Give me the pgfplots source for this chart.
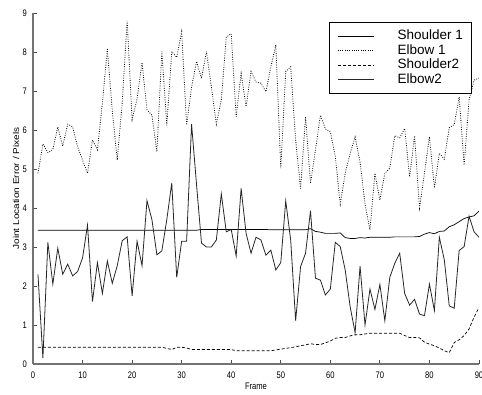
\documentclass[border=0pt]{standalone}
\usepackage{fontspec}
\setmainfont{Liberation Sans}
\newfontfamily\condfont{Liberation Sans}[FakeStretch=0.8]
\usepackage{graphicx}
\usepackage{pgfplots}
\pgfplotsset{compat=1.18}

\begin{document}
\begin{tikzpicture}
\useasboundingbox (0,0) rectangle (482pt,394pt);
\begin{axis}[
  at={(33pt,30pt)}, anchor=south west,
  scale only axis, width=446pt, height=351pt,
  xmin=0, xmax=90, ymin=0, ymax=9,
  axis x line*=bottom, axis y line*=left,
  xtick pos=bottom, ytick pos=left,
  xtick={0,10,...,90}, ytick={0,1,...,9},
  tick align=inside, major tick length=4pt,
  axis line style={black!55, line width=1.4pt},
  tick style={black!70, line width=0.8pt},
  /pgf/number format/assume math mode=true,
  ticklabel style={font=\condfont\fontsize{9.5}{11}\selectfont, inner sep=0pt},
  xticklabel style={anchor=center, yshift=-11pt},
  yticklabel style={anchor=east, xshift=-6pt},
  xlabel={Frame},
  ylabel={\scalebox{1}[0.85]{Joint Location Error / Pixels}},
  xlabel style={font=\condfont\fontsize{9.5}{11}\selectfont, at={(axis description cs:0.5,0)}, anchor=center, yshift=-22.7pt},
  ylabel style={font=\fontsize{10}{12}\selectfont, at={(axis description cs:-0.038,0.5)}, anchor=center},
  legend cell align=left,
  legend style={at={(0.9836,0.975)}, anchor=north east, draw=black, line width=1pt, fill=white,
    inner xsep=8.3pt, inner ysep=6.75pt, font=\fontsize{13.5}{14.5}\selectfont,
    column sep=22.7pt, row sep=0pt,
    nodes={inner sep=0pt, text height=10.5pt, text depth=4pt}},
  legend image code/.code={\draw[#1] (0pt,0pt) -- (36.7pt,0pt);},
]
% Shoulder 1
\addplot[black, line width=0.7pt] coordinates {
(1,3.43)(2,3.43)(3,3.43)(4,3.43)(5,3.43)(6,3.43)(7,3.43)(8,3.43)(9,3.43)(10,3.43)
(11,3.43)(12,3.43)(13,3.43)(14,3.43)(15,3.43)(16,3.43)(17,3.43)(18,3.43)(19,3.43)(20,3.43)
(21,3.43)(22,3.43)(23,3.43)(24,3.43)(25,3.43)(26,3.43)(27,3.43)(28,3.43)(29,3.43)(30,3.43)
(31,3.43)(32,3.43)(33,3.43)(34,3.45)(35,3.45)(36,3.45)(37,3.45)(38,3.45)(39,3.45)(40,3.45)
(41,3.45)(42,3.45)(43,3.45)(44,3.45)(45,3.45)(46,3.45)(47,3.45)(48,3.44)(49,3.44)(50,3.44)
(51,3.44)(52,3.44)(53,3.44)(54,3.44)(55,3.44)(56,3.47)(57,3.40)(58,3.38)(59,3.35)(60,3.35)
(61,3.35)(62,3.36)(63,3.24)(64,3.22)(65,3.22)(66,3.24)(67,3.23)(68,3.25)(69,3.25)(70,3.25)
(71,3.25)(72,3.25)(73,3.26)(74,3.26)(75,3.26)(76,3.26)(77,3.26)(78,3.27)(79,3.33)(80,3.37)
(81,3.34)(82,3.40)(83,3.41)(84,3.52)(85,3.57)(86,3.65)(87,3.73)(88,3.77)(89,3.80)(90,3.92)
};
\addlegendentry{Shoulder 1}
% Elbow 1
\addplot[black, line width=0.8pt, dash pattern=on 0.8pt off 1.5pt] coordinates {
(1,4.89)(2,5.64)(3,5.42)(4,5.50)(5,6.08)(6,5.59)(7,6.15)(8,6.08)(9,5.57)(10,5.23)
(11,4.89)(12,5.74)(13,5.49)(14,6.68)(15,8.07)(16,6.50)(17,5.23)(18,6.70)(19,8.80)(20,6.26)
(21,6.80)(22,7.73)(23,6.52)(24,6.38)(25,5.44)(26,8.01)(27,6.12)(28,8.01)(29,7.86)(30,8.52)
(31,6.13)(32,7.10)(33,7.76)(34,7.32)(35,8.01)(36,7.10)(37,6.15)(38,6.77)(39,8.38)(40,8.47)
(41,6.34)(42,7.45)(43,6.60)(44,7.50)(45,7.23)(46,7.20)(47,6.98)(48,7.62)(49,8.18)(50,5.02)
(51,7.50)(52,7.62)(53,5.74)(54,4.50)(55,6.34)(56,4.63)(57,5.49)(58,6.38)(59,6.03)(60,5.95)
(61,5.32)(62,4.10)(63,4.89)(64,5.40)(65,5.82)(66,5.18)(67,4.10)(68,3.44)(69,4.89)(70,4.20)
(71,4.89)(72,5.02)(73,5.85)(74,5.80)(75,6.04)(76,4.80)(77,5.85)(78,4.00)(79,4.90)(80,5.83)
(81,4.52)(82,5.40)(83,5.25)(84,6.06)(85,6.14)(86,6.85)(87,5.10)(88,6.77)(89,7.28)(90,7.33)
};
\addlegendentry{Elbow 1}
% Shoulder2
\addplot[black, line width=0.7pt, dash pattern=on 3pt off 2pt] coordinates {
(1,0.43)(2,0.43)(3,0.43)(4,0.43)(5,0.43)(6,0.43)(7,0.43)(8,0.43)(9,0.43)(10,0.43)
(11,0.43)(12,0.43)(13,0.43)(14,0.43)(15,0.43)(16,0.43)(17,0.43)(18,0.43)(19,0.43)(20,0.43)
(21,0.43)(22,0.43)(23,0.43)(24,0.43)(25,0.43)(26,0.43)(27,0.40)(28,0.37)(29,0.43)(30,0.43)
(31,0.41)(32,0.37)(33,0.37)(34,0.37)(35,0.37)(36,0.37)(37,0.37)(38,0.37)(39,0.37)(40,0.37)
(41,0.34)(42,0.34)(43,0.34)(44,0.34)(45,0.34)(46,0.34)(47,0.34)(48,0.34)(49,0.36)(50,0.38)
(51,0.40)(52,0.42)(53,0.44)(54,0.47)(55,0.49)(56,0.52)(57,0.50)(58,0.50)(59,0.54)(60,0.59)
(61,0.66)(62,0.68)(63,0.68)(64,0.72)(65,0.75)(66,0.75)(67,0.77)(68,0.79)(69,0.79)(70,0.79)
(71,0.79)(72,0.79)(73,0.79)(74,0.79)(75,0.73)(76,0.68)(77,0.68)(78,0.67)(79,0.56)(80,0.51)
(81,0.47)(82,0.41)(83,0.34)(84,0.29)(85,0.55)(86,0.62)(87,0.73)(88,0.90)(89,1.20)(90,1.45)
};
\addlegendentry{Shoulder2}
% Elbow2
\addplot[black!85, line width=0.8pt] coordinates {
(1,2.30)(2,0.15)(3,3.12)(4,2.05)(5,2.97)(6,2.30)(7,2.56)(8,2.26)(9,2.37)(10,2.72)
(11,3.56)(12,1.60)(13,2.60)(14,1.81)(15,2.64)(16,2.07)(17,2.52)(18,3.16)(19,3.26)(20,1.75)
(21,3.15)(22,2.52)(23,4.19)(24,3.70)(25,2.80)(26,2.90)(27,3.70)(28,4.64)(29,2.22)(30,3.15)
(31,3.15)(32,6.15)(33,4.60)(34,3.10)(35,3.00)(36,3.00)(37,3.18)(38,4.36)(39,3.39)(40,3.45)
(41,2.77)(42,4.50)(43,3.35)(44,2.84)(45,3.25)(46,3.18)(47,2.79)(48,2.92)(49,2.41)(50,2.60)
(51,4.18)(52,3.18)(53,1.11)(54,2.50)(55,2.84)(56,3.93)(57,2.20)(58,2.15)(59,1.77)(60,1.92)
(61,3.12)(62,3.01)(63,2.41)(64,1.47)(65,0.80)(66,2.51)(67,1.00)(68,1.92)(69,1.40)(70,2.04)
(71,1.11)(72,2.22)(73,2.58)(74,2.84)(75,1.81)(76,1.51)(77,1.66)(78,1.28)(79,1.24)(80,2.05)
(81,1.37)(82,3.25)(83,2.67)(84,1.49)(85,1.43)(86,2.91)(87,3.01)(88,3.79)(89,3.39)(90,3.25)
};
\addlegendentry{Elbow2}
\end{axis}
\end{tikzpicture}
\end{document}
